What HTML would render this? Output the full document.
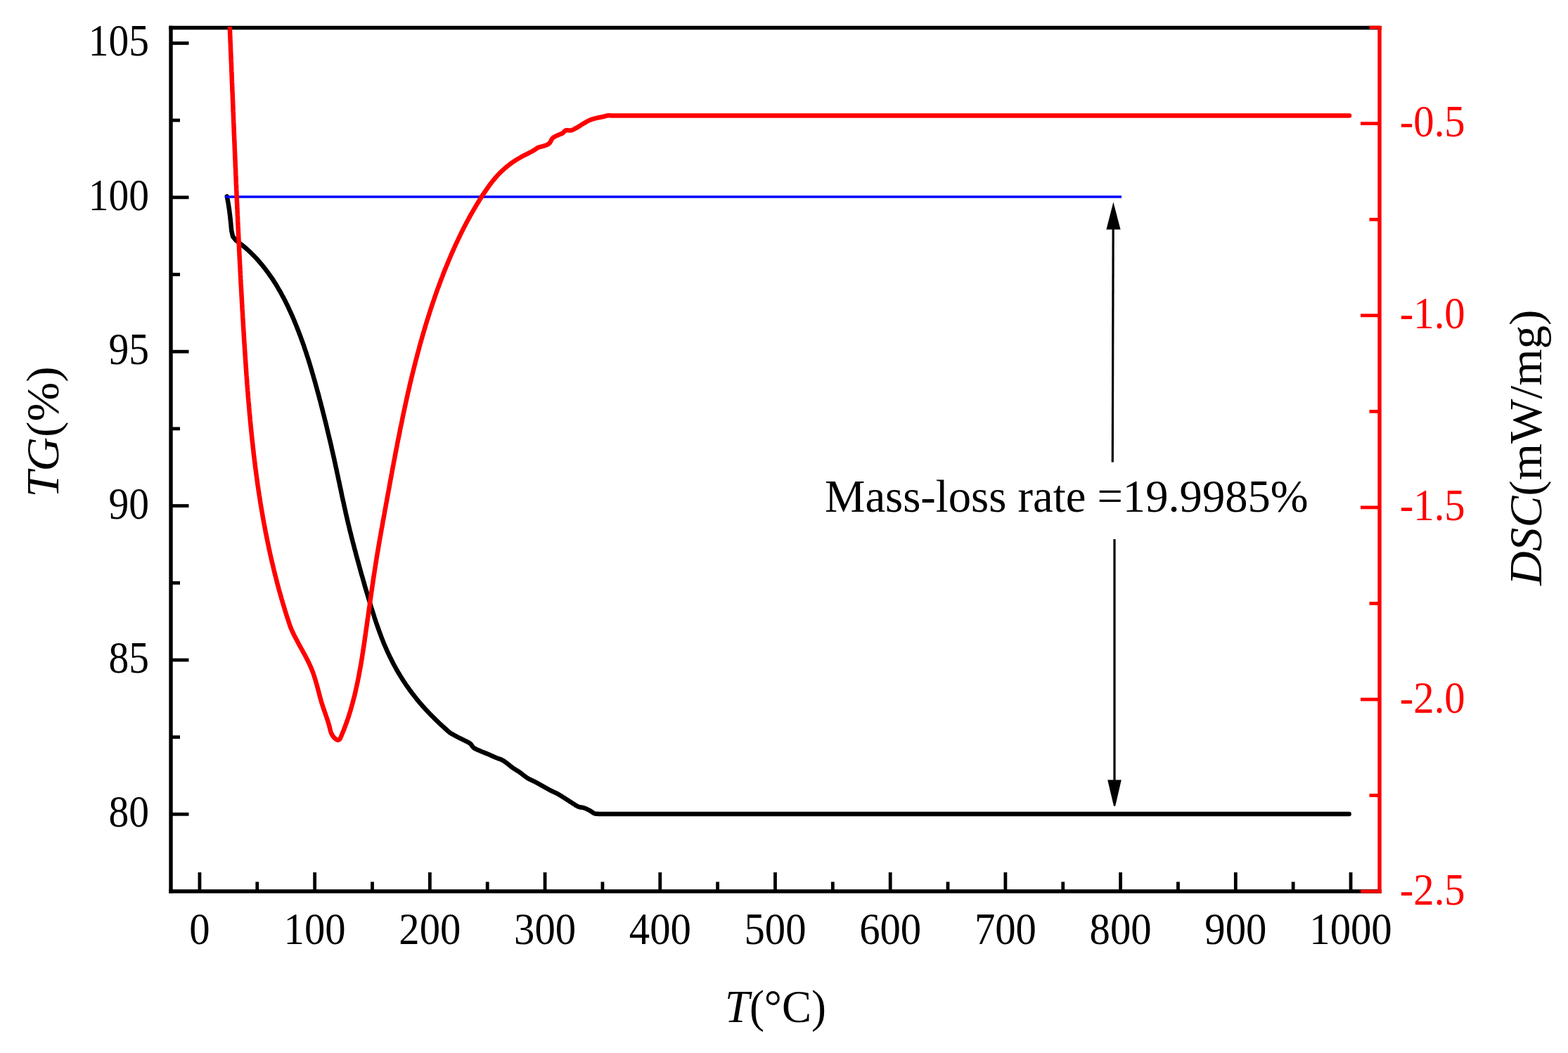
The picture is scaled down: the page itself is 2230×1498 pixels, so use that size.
<!DOCTYPE html><html><head><meta charset="utf-8"><title>TG-DSC</title><style>html,body{margin:0;padding:0;background:#fff;overflow:hidden;width:2230px;height:1498px;}svg{display:block;}text{font-family:'Liberation Serif','Times New Roman',serif;}</style></head><body>
<svg width="2230" height="1498" viewBox="0 0 2230 1498">
<rect width="2230" height="1498" fill="#fff"/>
<defs><clipPath id="pc"><rect x="243.0" y="38.0" width="1719.0" height="1230.0"/></clipPath></defs>
<g fill="#000" stroke="none">
<line x1="1583.2" y1="320" x2="1582.3" y2="657.5" stroke="#000" stroke-width="3.2"/>
<line x1="1585.0" y1="767" x2="1585.0" y2="1115" stroke="#000" stroke-width="3.2"/>
<polygon points="1583.4,287.5 1573.4,326.5 1593.6,326.5"/>
<polygon points="1584,1146.8 1586.2,1146.8 1594.8,1109.5 1575.2,1109.5"/>
</g>
<g stroke="#000" stroke-width="5.4" fill="none" stroke-linecap="square">
<line x1="243.0" y1="39.5" x2="243.0" y2="1268.0"/>
<line x1="243.0" y1="39.5" x2="1962.0" y2="39.5"/>
<line x1="243.0" y1="1268.0" x2="1962.0" y2="1268.0"/>
</g>
<g stroke="#000" stroke-width="4.8"><line x1="243.0" y1="61.44" x2="268.5" y2="61.44"/><line x1="243.0" y1="280.81" x2="268.5" y2="280.81"/><line x1="243.0" y1="500.19" x2="268.5" y2="500.19"/><line x1="243.0" y1="719.56" x2="268.5" y2="719.56"/><line x1="243.0" y1="938.94" x2="268.5" y2="938.94"/><line x1="243.0" y1="1158.31" x2="268.5" y2="1158.31"/><line x1="243.0" y1="171.12" x2="256" y2="171.12"/><line x1="243.0" y1="390.50" x2="256" y2="390.50"/><line x1="243.0" y1="609.88" x2="256" y2="609.88"/><line x1="243.0" y1="829.25" x2="256" y2="829.25"/><line x1="243.0" y1="1048.62" x2="256" y2="1048.62"/><line x1="283.93" y1="1268.0" x2="283.93" y2="1241" /><line x1="447.64" y1="1268.0" x2="447.64" y2="1241" /><line x1="611.35" y1="1268.0" x2="611.35" y2="1241" /><line x1="775.06" y1="1268.0" x2="775.06" y2="1241" /><line x1="938.77" y1="1268.0" x2="938.77" y2="1241" /><line x1="1102.48" y1="1268.0" x2="1102.48" y2="1241" /><line x1="1266.19" y1="1268.0" x2="1266.19" y2="1241" /><line x1="1429.90" y1="1268.0" x2="1429.90" y2="1241" /><line x1="1593.61" y1="1268.0" x2="1593.61" y2="1241" /><line x1="1757.32" y1="1268.0" x2="1757.32" y2="1241" /><line x1="1921.03" y1="1268.0" x2="1921.03" y2="1241" /><line x1="365.78" y1="1268.0" x2="365.78" y2="1254.5" /><line x1="529.49" y1="1268.0" x2="529.49" y2="1254.5" /><line x1="693.20" y1="1268.0" x2="693.20" y2="1254.5" /><line x1="856.91" y1="1268.0" x2="856.91" y2="1254.5" /><line x1="1020.62" y1="1268.0" x2="1020.62" y2="1254.5" /><line x1="1184.33" y1="1268.0" x2="1184.33" y2="1254.5" /><line x1="1348.04" y1="1268.0" x2="1348.04" y2="1254.5" /><line x1="1511.75" y1="1268.0" x2="1511.75" y2="1254.5" /><line x1="1675.46" y1="1268.0" x2="1675.46" y2="1254.5" /><line x1="1839.17" y1="1268.0" x2="1839.17" y2="1254.5" /></g>
<g stroke="#ff0000" stroke-width="4.8"><line x1="1962.0" y1="37.0" x2="1962.0" y2="1270.5" stroke-width="5.4"/><line x1="1935" y1="175.70" x2="1962.0" y2="175.70"/><line x1="1935" y1="448.80" x2="1962.0" y2="448.80"/><line x1="1935" y1="721.90" x2="1962.0" y2="721.90"/><line x1="1935" y1="995.00" x2="1962.0" y2="995.00"/><line x1="1935" y1="1268.10" x2="1962.0" y2="1268.10"/><line x1="1947.5" y1="39.15" x2="1962.0" y2="39.15"/><line x1="1947.5" y1="312.25" x2="1962.0" y2="312.25"/><line x1="1947.5" y1="585.35" x2="1962.0" y2="585.35"/><line x1="1947.5" y1="858.45" x2="1962.0" y2="858.45"/><line x1="1947.5" y1="1131.55" x2="1962.0" y2="1131.55"/></g>
<g clip-path="url(#pc)" fill="none" stroke-linejoin="round">
<path d="M322.7,279.4 L323.4,282.6 L324.0,285.8 L324.6,289.0 L325.1,292.3 L325.6,295.5 L326.1,298.7 L326.5,302.0 L326.9,305.2 L327.3,308.5 L327.6,311.7 L328.0,315.0 L328.3,318.2 L328.6,321.5 L328.9,324.7 L329.2,328.0 L331.1,336.4 L335.8,342.1 L338.3,343.9 L340.7,345.8 L343.1,347.7 L345.5,349.6 L347.8,351.5 L350.1,353.5 L352.4,355.5 L354.6,357.6 L356.8,359.7 L358.9,361.8 L361.1,363.9 L363.1,366.1 L365.2,368.3 L367.2,370.5 L369.2,372.8 L371.1,375.1 L373.1,377.4 L374.9,379.7 L376.8,382.1 L378.6,384.5 L380.4,386.9 L382.2,389.3 L383.9,391.8 L385.6,394.2 L387.3,396.7 L389.0,399.2 L390.6,401.8 L392.2,404.3 L393.8,406.9 L395.3,409.5 L396.8,412.1 L398.3,414.7 L399.8,417.3 L401.2,420.0 L402.7,422.7 L404.1,425.3 L405.5,428.0 L406.8,430.7 L408.2,433.4 L409.5,436.2 L410.8,438.9 L412.0,441.7 L413.3,444.4 L414.5,447.2 L415.8,449.9 L417.0,452.7 L418.2,455.5 L419.3,458.3 L420.5,461.1 L421.6,463.9 L422.7,466.7 L423.8,469.5 L424.9,472.4 L426.0,475.2 L427.1,478.0 L428.1,480.8 L429.1,483.7 L430.2,486.5 L431.2,489.4 L432.2,492.2 L433.1,495.1 L434.1,498.0 L435.1,500.8 L436.0,503.7 L436.9,506.6 L437.9,509.5 L438.8,512.3 L439.7,515.2 L440.6,518.1 L441.4,521.0 L442.3,523.9 L443.2,526.8 L444.0,529.7 L444.9,532.6 L445.7,535.5 L446.5,538.4 L447.4,541.3 L448.2,544.2 L449.0,547.1 L449.8,550.1 L450.6,553.0 L451.4,555.9 L452.2,558.8 L453.0,561.7 L453.8,564.7 L454.5,567.6 L455.3,570.5 L456.1,573.4 L456.8,576.3 L457.6,579.3 L458.3,582.2 L459.1,585.1 L459.8,588.0 L460.6,591.0 L461.3,593.9 L462.0,596.8 L462.8,599.8 L463.5,602.7 L464.2,605.6 L464.9,608.6 L465.6,611.5 L466.3,614.4 L467.0,617.4 L467.7,620.3 L468.4,623.3 L469.1,626.2 L469.8,629.1 L470.5,632.1 L471.2,635.0 L471.8,638.0 L472.5,640.9 L473.2,643.9 L473.8,646.8 L474.5,649.8 L475.2,652.7 L475.8,655.7 L476.5,658.6 L477.1,661.6 L477.7,664.5 L478.4,667.5 L479.0,670.4 L479.6,673.4 L480.3,676.3 L480.9,679.3 L481.5,682.2 L482.2,685.2 L482.8,688.1 L483.4,691.1 L484.0,694.1 L484.7,697.0 L485.3,700.0 L485.9,702.9 L486.5,705.9 L487.2,708.8 L487.8,711.8 L488.5,714.7 L489.1,717.7 L489.7,720.6 L490.4,723.6 L491.1,726.5 L491.7,729.5 L492.4,732.4 L493.1,735.4 L493.7,738.3 L494.4,741.2 L495.1,744.2 L495.8,747.1 L496.5,750.0 L497.2,753.0 L497.9,755.9 L498.7,758.8 L499.4,761.8 L500.1,764.7 L500.9,767.6 L501.6,770.5 L502.4,773.4 L503.2,776.4 L503.9,779.3 L504.7,782.2 L505.5,785.1 L506.2,788.0 L507.0,791.0 L507.8,793.9 L508.6,796.8 L509.4,799.7 L510.2,802.6 L511.0,805.5 L511.8,808.5 L512.6,811.4 L513.4,814.3 L514.2,817.2 L515.1,820.1 L515.9,823.0 L516.7,825.9 L517.6,828.8 L518.4,831.8 L519.2,834.7 L520.1,837.6 L520.9,840.5 L521.8,843.4 L522.7,846.3 L523.5,849.2 L524.4,852.1 L525.3,855.0 L526.2,857.9 L527.0,860.8 L527.9,863.7 L528.8,866.6 L529.8,869.5 L530.7,872.4 L531.6,875.3 L532.5,878.2 L533.5,881.1 L534.4,884.0 L535.4,886.8 L536.4,889.7 L537.4,892.6 L538.4,895.4 L539.4,898.3 L540.5,901.1 L541.5,903.9 L542.6,906.8 L543.7,909.6 L544.8,912.4 L545.9,915.2 L547.1,918.0 L548.3,920.7 L549.5,923.5 L550.7,926.3 L552.0,929.0 L553.2,931.7 L554.5,934.4 L555.9,937.1 L557.2,939.8 L558.6,942.5 L560.0,945.2 L561.4,947.8 L562.9,950.5 L564.3,953.1 L565.8,955.7 L567.4,958.3 L568.9,960.8 L570.5,963.4 L572.1,965.9 L573.7,968.5 L575.4,971.0 L577.0,973.5 L578.7,976.0 L580.5,978.4 L582.2,980.9 L584.0,983.3 L585.8,985.7 L587.6,988.1 L589.5,990.5 L591.3,992.8 L593.2,995.2 L595.1,997.5 L597.1,999.8 L599.1,1002.1 L601.0,1004.4 L603.1,1006.6 L605.1,1008.9 L607.2,1011.1 L609.2,1013.3 L611.3,1015.5 L613.4,1017.6 L615.6,1019.8 L617.7,1021.9 L619.9,1024.1 L622.1,1026.2 L624.3,1028.3 L626.5,1030.3 L628.7,1032.4 L630.9,1034.4 L633.2,1036.5 L635.4,1038.5 L637.7,1040.5 L640.0,1042.5 L641.3,1043.3 L642.7,1044.0 L644.0,1044.8 L645.4,1045.5 L646.7,1046.3 L648.1,1047.0 L649.4,1047.8 L650.8,1048.5 L652.1,1049.2 L653.5,1049.9 L654.9,1050.5 L656.3,1051.2 L657.6,1051.9 L659.0,1052.5 L660.3,1053.2 L661.5,1053.8 L662.5,1054.3 L663.6,1054.8 L664.6,1055.3 L665.6,1055.8 L666.5,1056.4 L667.4,1056.9 L668.3,1057.5 L669.1,1058.1 L669.7,1058.7 L670.3,1059.4 L670.7,1060.1 L671.2,1060.8 L671.7,1061.5 L672.2,1062.2 L672.7,1062.9 L673.4,1063.5 L674.4,1064.2 L675.5,1064.9 L676.7,1065.5 L677.9,1066.1 L679.2,1066.7 L680.5,1067.3 L681.8,1067.8 L683.1,1068.4 L684.4,1069.0 L685.7,1069.5 L687.1,1070.0 L688.4,1070.6 L689.8,1071.1 L691.1,1071.6 L692.5,1072.1 L693.8,1072.7 L695.2,1073.3 L696.5,1073.9 L697.9,1074.5 L699.2,1075.1 L700.6,1075.7 L701.9,1076.3 L703.3,1076.9 L704.6,1077.5 L705.8,1078.0 L707.1,1078.5 L708.4,1078.9 L709.6,1079.4 L710.9,1079.8 L712.1,1080.3 L713.2,1080.8 L714.3,1081.3 L715.2,1081.8 L716.0,1082.3 L716.8,1082.8 L717.6,1083.3 L718.3,1083.9 L719.1,1084.4 L719.9,1085.0 L720.7,1085.6 L721.7,1086.3 L722.6,1087.1 L723.6,1087.9 L724.6,1088.7 L725.6,1089.5 L726.7,1090.4 L727.7,1091.2 L728.8,1092.0 L730.1,1092.9 L731.4,1093.7 L732.7,1094.6 L734.1,1095.5 L735.5,1096.3 L736.9,1097.2 L738.3,1098.1 L739.6,1099.0 L740.9,1100.0 L742.2,1100.9 L743.5,1102.0 L744.8,1103.0 L746.1,1104.0 L747.4,1105.0 L748.7,1105.9 L750.0,1106.8 L751.3,1107.6 L752.7,1108.3 L754.0,1109.0 L755.4,1109.6 L756.7,1110.2 L758.1,1110.9 L759.5,1111.5 L760.8,1112.2 L762.1,1112.9 L763.5,1113.6 L764.8,1114.4 L766.2,1115.1 L767.5,1115.9 L768.8,1116.6 L770.2,1117.4 L771.5,1118.1 L772.8,1118.9 L774.2,1119.6 L775.5,1120.4 L776.9,1121.1 L778.2,1121.9 L779.6,1122.6 L780.9,1123.4 L782.3,1124.1 L783.6,1124.8 L785.0,1125.4 L786.4,1126.1 L787.7,1126.7 L789.1,1127.4 L790.4,1128.0 L791.8,1128.7 L793.1,1129.4 L794.5,1130.2 L795.8,1130.9 L797.1,1131.7 L798.5,1132.6 L799.8,1133.4 L801.1,1134.2 L802.5,1135.1 L803.8,1135.9 L805.2,1136.8 L806.5,1137.7 L807.9,1138.6 L809.3,1139.5 L810.7,1140.4 L812.0,1141.2 L813.3,1142.1 L814.6,1142.9 L815.7,1143.6 L816.7,1144.2 L817.7,1144.9 L818.7,1145.6 L819.7,1146.2 L820.7,1146.7 L821.7,1147.3 L822.7,1147.7 L823.7,1148.0 L824.7,1148.3 L825.7,1148.5 L826.7,1148.6 L827.7,1148.7 L828.7,1148.9 L829.7,1149.1 L830.7,1149.4 L831.7,1149.8 L832.8,1150.2 L833.8,1150.6 L834.8,1151.1 L835.8,1151.6 L836.8,1152.1 L837.8,1152.6 L838.8,1153.1 L839.7,1153.6 L840.6,1154.2 L841.5,1154.8 L842.3,1155.5 L843.2,1156.0 L844.1,1156.6 L844.9,1157.0 L845.8,1157.4 L846.6,1157.6 L847.3,1157.7 L848.1,1157.8 L848.9,1157.8 L849.7,1157.8 L850.4,1157.8 L851.2,1157.9 L852.0,1157.9 L1918.6,1157.9" stroke="#000" stroke-width="6.5" stroke-linecap="round"/>
<line x1="320" y1="280" x2="1595" y2="280" stroke="#0000ff" stroke-width="3.4" stroke-linecap="butt"/>
<path d="M326.0,20.0 L326.1,23.0 L326.3,26.0 L326.4,29.0 L326.5,32.0 L326.6,35.0 L326.8,38.0 L326.9,41.0 L327.0,44.1 L327.1,47.1 L327.3,50.1 L327.4,53.1 L327.5,56.1 L327.6,59.1 L327.8,62.1 L327.9,65.1 L328.0,68.1 L328.1,71.1 L328.2,74.1 L328.4,77.1 L328.5,80.1 L328.6,83.2 L328.7,86.2 L328.9,89.2 L329.0,92.2 L329.1,95.2 L329.2,98.2 L329.3,101.2 L329.5,104.2 L329.6,107.2 L329.7,110.2 L329.8,113.2 L329.9,116.2 L330.1,119.3 L330.2,122.3 L330.3,125.3 L330.4,128.3 L330.5,131.3 L330.7,134.3 L330.8,137.3 L330.9,140.3 L331.0,143.3 L331.2,146.3 L331.3,149.3 L331.4,152.4 L331.5,155.4 L331.6,158.4 L331.8,161.4 L331.9,164.4 L332.0,167.4 L332.1,170.4 L332.2,173.4 L332.4,176.4 L332.5,179.4 L332.6,182.4 L332.7,185.5 L332.8,188.5 L333.0,191.5 L333.1,194.5 L333.2,197.5 L333.3,200.5 L333.5,203.5 L333.6,206.5 L333.7,209.5 L333.8,212.5 L334.0,215.6 L334.1,218.6 L334.2,221.6 L334.3,224.6 L334.5,227.6 L334.6,230.6 L334.7,233.6 L334.8,236.6 L335.0,239.6 L335.1,242.6 L335.2,245.7 L335.3,248.7 L335.5,251.7 L335.6,254.7 L335.7,257.7 L335.8,260.7 L336.0,263.7 L336.1,266.7 L336.2,269.7 L336.4,272.7 L336.5,275.8 L336.6,278.8 L336.8,281.8 L336.9,284.8 L337.0,287.8 L337.2,290.8 L337.3,293.8 L337.4,296.8 L337.6,299.8 L337.7,302.9 L337.8,305.9 L338.0,308.9 L338.1,311.9 L338.2,314.9 L338.4,317.9 L338.5,320.9 L338.7,323.9 L338.8,326.9 L338.9,330.0 L339.1,333.0 L339.2,336.0 L339.4,339.0 L339.5,342.0 L339.7,345.0 L339.8,348.0 L340.0,351.0 L340.1,354.0 L340.2,357.1 L340.4,360.1 L340.5,363.1 L340.7,366.1 L340.8,369.1 L341.0,372.1 L341.1,375.1 L341.3,378.1 L341.5,381.1 L341.6,384.2 L341.8,387.2 L341.9,390.2 L342.1,393.2 L342.2,396.2 L342.4,399.2 L342.5,402.2 L342.7,405.2 L342.9,408.2 L343.0,411.3 L343.2,414.3 L343.4,417.3 L343.5,420.3 L343.7,423.3 L343.9,426.3 L344.0,429.3 L344.2,432.3 L344.4,435.4 L344.5,438.4 L344.7,441.4 L344.9,444.4 L345.1,447.4 L345.2,450.4 L345.4,453.4 L345.6,456.4 L345.8,459.4 L345.9,462.5 L346.1,465.5 L346.3,468.5 L346.5,471.5 L346.7,474.5 L346.8,477.5 L347.0,480.5 L347.2,483.5 L347.4,486.5 L347.6,489.6 L347.8,492.6 L348.0,495.6 L348.2,498.6 L348.4,501.6 L348.6,504.6 L348.8,507.6 L349.0,510.6 L349.2,513.6 L349.4,516.7 L349.6,519.7 L349.8,522.7 L350.0,525.7 L350.2,528.7 L350.4,531.7 L350.6,534.7 L350.9,537.7 L351.1,540.7 L351.3,543.7 L351.5,546.8 L351.8,549.8 L352.0,552.8 L352.2,555.8 L352.5,558.8 L352.7,561.8 L352.9,564.8 L353.2,567.8 L353.4,570.8 L353.7,573.8 L354.0,576.8 L354.2,579.8 L354.5,582.8 L354.7,585.8 L355.0,588.8 L355.3,591.8 L355.6,594.8 L355.8,597.8 L356.1,600.8 L356.4,603.8 L356.7,606.8 L357.0,609.8 L357.3,612.8 L357.6,615.8 L357.9,618.8 L358.2,621.8 L358.5,624.8 L358.8,627.8 L359.2,630.8 L359.5,633.8 L359.8,636.8 L360.2,639.8 L360.5,642.7 L360.8,645.7 L361.2,648.7 L361.6,651.7 L361.9,654.7 L362.3,657.7 L362.7,660.7 L363.0,663.7 L363.4,666.6 L363.8,669.6 L364.2,672.6 L364.6,675.6 L365.0,678.6 L365.4,681.5 L365.8,684.5 L366.2,687.5 L366.6,690.5 L367.1,693.4 L367.5,696.4 L367.9,699.4 L368.4,702.4 L368.8,705.3 L369.3,708.3 L369.8,711.3 L370.2,714.2 L370.7,717.2 L371.2,720.2 L371.7,723.1 L372.2,726.1 L372.7,729.0 L373.2,732.0 L373.7,735.0 L374.2,737.9 L374.8,740.9 L375.3,743.8 L375.9,746.8 L376.4,749.7 L377.0,752.7 L377.5,755.6 L378.1,758.6 L378.7,761.5 L379.3,764.5 L379.9,767.4 L380.5,770.4 L381.1,773.3 L381.7,776.2 L382.3,779.2 L382.9,782.1 L383.6,785.0 L384.2,788.0 L384.9,790.9 L385.5,793.8 L386.2,796.8 L386.9,799.7 L387.6,802.6 L388.3,805.5 L389.0,808.5 L389.7,811.4 L390.4,814.3 L391.1,817.2 L391.9,820.1 L392.6,823.0 L393.4,825.9 L394.1,828.9 L394.9,831.8 L395.7,834.7 L396.4,837.6 L397.2,840.5 L398.1,843.4 L398.9,846.3 L399.7,849.2 L400.5,852.1 L401.4,855.0 L402.2,857.9 L403.1,860.7 L404.0,863.6 L404.8,866.5 L405.7,869.4 L406.6,872.3 L407.5,875.2 L408.4,878.0 L409.4,880.9 L410.3,883.8 L411.3,886.7 L412.2,889.5 L413.2,892.4 L414.4,895.2 L415.6,897.9 L416.9,900.7 L418.2,903.4 L419.6,906.1 L421.0,908.8 L422.4,911.4 L423.8,914.1 L425.2,916.7 L426.7,919.4 L428.1,922.0 L429.6,924.6 L431.0,927.3 L432.5,929.9 L433.9,932.5 L435.3,935.2 L436.7,937.8 L438.0,940.5 L439.3,943.2 L440.6,945.9 L441.8,948.6 L443.0,951.4 L444.1,954.2 L445.2,957.0 L446.2,959.8 L447.1,962.7 L448.0,965.6 L448.9,968.5 L449.7,971.4 L450.6,974.3 L451.3,977.2 L452.1,980.2 L452.9,983.1 L453.7,986.0 L454.4,988.9 L455.2,991.8 L456.0,994.7 L456.8,997.6 L457.7,1000.5 L458.6,1003.3 L459.5,1006.1 L460.4,1008.9 L461.4,1011.7 L462.4,1014.5 L463.4,1017.3 L464.3,1020.1 L465.3,1022.9 L466.2,1025.8 L467.1,1028.7 L468.0,1031.6 L468.8,1034.6 L469.5,1037.7 L470.3,1040.8 L471.5,1043.9 L473.2,1046.9 L475.6,1049.8 L478.3,1052.0 L480.9,1052.9 L482.8,1051.9 L484.2,1049.7 L485.4,1047.0 L486.5,1044.3 L487.6,1041.5 L488.8,1038.8 L489.8,1036.0 L490.9,1033.2 L491.9,1030.4 L492.9,1027.6 L493.9,1024.8 L494.9,1022.0 L495.8,1019.2 L496.7,1016.3 L497.6,1013.5 L498.5,1010.6 L499.3,1007.7 L500.1,1004.9 L500.9,1002.0 L501.7,999.1 L502.5,996.2 L503.2,993.3 L504.0,990.4 L504.7,987.5 L505.4,984.5 L506.0,981.6 L506.7,978.7 L507.3,975.7 L508.0,972.8 L508.6,969.8 L509.2,966.9 L509.8,963.9 L510.4,961.0 L510.9,958.0 L511.5,955.0 L512.0,952.0 L512.6,949.0 L513.1,946.1 L513.6,943.1 L514.1,940.1 L514.6,937.1 L515.1,934.1 L515.5,931.1 L516.0,928.1 L516.5,925.1 L516.9,922.1 L517.4,919.1 L517.8,916.1 L518.3,913.1 L518.7,910.1 L519.1,907.1 L519.6,904.1 L520.0,901.1 L520.4,898.1 L520.8,895.1 L521.3,892.1 L521.7,889.1 L522.1,886.1 L522.5,883.1 L522.9,880.1 L523.4,877.2 L523.8,874.2 L524.2,871.2 L524.6,868.2 L525.0,865.2 L525.5,862.2 L525.9,859.3 L526.3,856.3 L526.7,853.3 L527.2,850.3 L527.6,847.3 L528.0,844.4 L528.4,841.4 L528.9,838.4 L529.3,835.4 L529.7,832.5 L530.2,829.5 L530.6,826.5 L531.0,823.6 L531.5,820.6 L531.9,817.6 L532.4,814.7 L532.8,811.7 L533.3,808.7 L533.8,805.8 L534.2,802.8 L534.7,799.8 L535.2,796.9 L535.6,793.9 L536.1,791.0 L536.6,788.0 L537.1,785.1 L537.6,782.1 L538.1,779.1 L538.6,776.2 L539.1,773.2 L539.6,770.3 L540.1,767.3 L540.6,764.4 L541.2,761.4 L541.7,758.4 L542.2,755.5 L542.7,752.5 L543.3,749.6 L543.8,746.6 L544.3,743.7 L544.8,740.7 L545.4,737.8 L545.9,734.8 L546.5,731.8 L547.0,728.9 L547.5,725.9 L548.1,723.0 L548.6,720.0 L549.1,717.1 L549.7,714.1 L550.2,711.1 L550.8,708.2 L551.3,705.2 L551.8,702.3 L552.4,699.3 L552.9,696.3 L553.5,693.4 L554.0,690.4 L554.5,687.4 L555.1,684.5 L555.6,681.5 L556.2,678.6 L556.7,675.6 L557.3,672.6 L557.8,669.7 L558.4,666.7 L558.9,663.7 L559.5,660.8 L560.0,657.8 L560.6,654.8 L561.2,651.9 L561.7,648.9 L562.3,646.0 L562.8,643.0 L563.4,640.0 L564.0,637.1 L564.6,634.1 L565.1,631.1 L565.7,628.2 L566.3,625.2 L566.9,622.3 L567.5,619.3 L568.1,616.3 L568.7,613.4 L569.2,610.4 L569.8,607.5 L570.5,604.5 L571.1,601.6 L571.7,598.6 L572.3,595.6 L572.9,592.7 L573.5,589.7 L574.1,586.8 L574.8,583.8 L575.4,580.9 L576.0,577.9 L576.7,575.0 L577.3,572.1 L578.0,569.1 L578.6,566.2 L579.3,563.2 L579.9,560.3 L580.6,557.3 L581.3,554.4 L582.0,551.5 L582.6,548.5 L583.3,545.6 L584.0,542.7 L584.7,539.7 L585.4,536.8 L586.1,533.9 L586.8,531.0 L587.6,528.0 L588.3,525.1 L589.0,522.2 L589.7,519.3 L590.5,516.3 L591.2,513.4 L592.0,510.5 L592.8,507.6 L593.5,504.7 L594.3,501.8 L595.1,498.9 L595.9,496.0 L596.6,493.1 L597.4,490.2 L598.2,487.3 L599.1,484.4 L599.9,481.5 L600.7,478.6 L601.5,475.7 L602.4,472.8 L603.2,469.9 L604.1,467.1 L604.9,464.2 L605.8,461.3 L606.7,458.4 L607.6,455.6 L608.5,452.7 L609.4,449.8 L610.3,447.0 L611.2,444.1 L612.1,441.2 L613.0,438.4 L614.0,435.5 L614.9,432.7 L615.9,429.8 L616.9,427.0 L617.8,424.2 L618.8,421.3 L619.8,418.5 L620.8,415.7 L621.8,412.8 L622.8,410.0 L623.9,407.2 L624.9,404.4 L626.0,401.5 L627.0,398.7 L628.1,395.9 L629.2,393.1 L630.2,390.3 L631.3,387.5 L632.4,384.7 L633.6,381.9 L634.7,379.1 L635.8,376.4 L637.0,373.6 L638.1,370.8 L639.3,368.0 L640.5,365.2 L641.6,362.5 L642.8,359.7 L644.1,357.0 L645.3,354.2 L646.5,351.5 L647.8,348.7 L649.0,346.0 L650.3,343.3 L651.6,340.5 L652.9,337.8 L654.2,335.1 L655.5,332.4 L656.8,329.7 L658.2,327.0 L659.5,324.3 L660.9,321.7 L662.3,319.0 L663.7,316.3 L665.1,313.7 L666.6,311.0 L668.0,308.4 L669.5,305.7 L671.0,303.1 L672.5,300.5 L674.0,297.9 L675.5,295.3 L677.0,292.7 L678.6,290.1 L680.2,287.5 L681.8,284.9 L683.4,282.4 L685.0,279.8 L686.6,277.3 L688.3,274.8 L690.0,272.3 L691.7,269.8 L693.4,267.3 L695.2,264.8 L696.9,262.4 L698.8,260.0 L700.6,257.7 L702.5,255.4 L704.4,253.1 L706.4,250.8 L708.4,248.6 L710.5,246.5 L712.6,244.4 L714.8,242.4 L717.0,240.4 L719.2,238.4 L721.5,236.5 L723.8,234.7 L726.2,232.9 L728.6,231.1 L731.1,229.4 L733.6,227.8 L736.2,226.2 L738.8,224.7 L741.4,223.2 L744.1,221.7 L746.8,220.4 L749.6,219.0 L752.3,217.6 L755.0,216.2 L757.7,214.8 L760.2,213.2 L762.7,211.6 L765.1,209.8 L766.5,209.4 L767.9,209.1 L769.3,208.7 L770.8,208.4 L772.1,208.0 L773.5,207.6 L774.7,207.2 L775.9,206.8 L776.7,206.5 L777.4,206.2 L778.1,205.9 L778.8,205.5 L779.5,205.2 L780.1,204.8 L780.7,204.3 L781.3,203.8 L782.0,203.1 L782.5,202.2 L783.1,201.2 L783.6,200.2 L784.1,199.2 L784.7,198.2 L785.3,197.3 L786.0,196.5 L786.8,195.8 L787.7,195.2 L788.6,194.6 L789.6,194.1 L790.6,193.7 L791.6,193.2 L792.6,192.7 L793.5,192.3 L794.3,191.9 L795.2,191.6 L796.0,191.2 L796.9,190.9 L797.7,190.6 L798.5,190.3 L799.3,189.9 L800.0,189.5 L800.6,189.0 L801.2,188.5 L801.8,187.9 L802.3,187.3 L802.9,186.8 L803.4,186.3 L804.0,185.8 L804.7,185.5 L805.5,185.3 L806.4,185.3 L807.3,185.3 L808.3,185.4 L809.2,185.5 L810.2,185.6 L811.2,185.6 L812.1,185.5 L813.0,185.3 L814.0,184.9 L814.9,184.5 L815.8,184.1 L816.7,183.6 L817.6,183.1 L818.5,182.6 L819.5,182.1 L820.7,181.4 L821.9,180.7 L823.1,180.0 L824.3,179.2 L825.6,178.4 L826.8,177.6 L828.1,176.8 L829.3,176.1 L830.5,175.4 L831.8,174.7 L833.0,173.9 L834.2,173.2 L835.4,172.5 L836.7,171.9 L837.9,171.3 L839.2,170.7 L840.4,170.2 L841.6,169.8 L842.9,169.4 L844.1,169.1 L845.4,168.7 L846.6,168.4 L847.9,168.1 L849.1,167.8 L850.3,167.5 L851.6,167.2 L852.9,167.0 L854.2,166.7 L855.5,166.5 L856.7,166.3 L857.8,166.0 L858.9,165.8 L859.6,165.6 L860.3,165.4 L860.9,165.2 L861.5,165.0 L862.1,164.8 L862.6,164.7 L863.3,164.5 L863.9,164.4 L864.6,164.3 L865.4,164.3 L866.1,164.3 L866.9,164.3 L867.7,164.3 L868.5,164.4 L869.2,164.4 L870.0,164.4 L1919,164.5" stroke="#ff0000" stroke-width="6.5" stroke-linecap="round"/>
</g>
<text transform="translate(212.0 79.4) scale(0.950 1.040)" text-anchor="end" font-size="60.5" fill="#000">105</text>
<text transform="translate(212.0 298.8) scale(0.950 1.040)" text-anchor="end" font-size="60.5" fill="#000">100</text>
<text transform="translate(212.0 518.2) scale(0.950 1.040)" text-anchor="end" font-size="60.5" fill="#000">95</text>
<text transform="translate(212.0 737.6) scale(0.950 1.040)" text-anchor="end" font-size="60.5" fill="#000">90</text>
<text transform="translate(212.0 956.9) scale(0.950 1.040)" text-anchor="end" font-size="60.5" fill="#000">85</text>
<text transform="translate(212.0 1176.3) scale(0.950 1.040)" text-anchor="end" font-size="60.5" fill="#000">80</text>
<text transform="translate(283.9 1343.3) scale(0.970 1.040)" text-anchor="middle" font-size="60.5" fill="#000">0</text>
<text transform="translate(447.6 1343.3) scale(0.970 1.040)" text-anchor="middle" font-size="60.5" fill="#000">100</text>
<text transform="translate(611.3 1343.3) scale(0.970 1.040)" text-anchor="middle" font-size="60.5" fill="#000">200</text>
<text transform="translate(775.1 1343.3) scale(0.970 1.040)" text-anchor="middle" font-size="60.5" fill="#000">300</text>
<text transform="translate(938.8 1343.3) scale(0.970 1.040)" text-anchor="middle" font-size="60.5" fill="#000">400</text>
<text transform="translate(1102.5 1343.3) scale(0.970 1.040)" text-anchor="middle" font-size="60.5" fill="#000">500</text>
<text transform="translate(1266.2 1343.3) scale(0.970 1.040)" text-anchor="middle" font-size="60.5" fill="#000">600</text>
<text transform="translate(1429.9 1343.3) scale(0.970 1.040)" text-anchor="middle" font-size="60.5" fill="#000">700</text>
<text transform="translate(1593.6 1343.3) scale(0.970 1.040)" text-anchor="middle" font-size="60.5" fill="#000">800</text>
<text transform="translate(1757.3 1343.3) scale(0.970 1.040)" text-anchor="middle" font-size="60.5" fill="#000">900</text>
<text transform="translate(1921.0 1343.3) scale(0.970 1.040)" text-anchor="middle" font-size="60.5" fill="#000">1000</text>
<text transform="translate(1990.8 194.2) scale(0.970 1.040)" text-anchor="start" font-size="60.5" fill="#ff0000">-0.5</text>
<text transform="translate(1990.8 467.3) scale(0.970 1.040)" text-anchor="start" font-size="60.5" fill="#ff0000">-1.0</text>
<text transform="translate(1990.8 740.4) scale(0.970 1.040)" text-anchor="start" font-size="60.5" fill="#ff0000">-1.5</text>
<text transform="translate(1990.8 1013.5) scale(0.970 1.040)" text-anchor="start" font-size="60.5" fill="#ff0000">-2.0</text>
<text transform="translate(1990.8 1286.6) scale(0.970 1.040)" text-anchor="start" font-size="60.5" fill="#ff0000">-2.5</text>
<text transform="translate(1030.9 1454.4) scale(0.976 1.02)" font-size="64.5"><tspan font-style="italic">T</tspan>(°C)</text>
<text transform="translate(82.6 707.7) rotate(-90) scale(1.04 1.02)" font-size="64.5"><tspan font-style="italic">TG</tspan>(%)</text>
<text transform="translate(2191.8 832.8) rotate(-90) scale(1.043 1.02)" font-size="64.5"><tspan font-style="italic">DSC</tspan>(mW/mg)</text>
<text transform="translate(1173 727.6) scale(1 1.02)" font-size="64.6">Mass-loss rate =19.9985%</text>
</svg></body></html>
